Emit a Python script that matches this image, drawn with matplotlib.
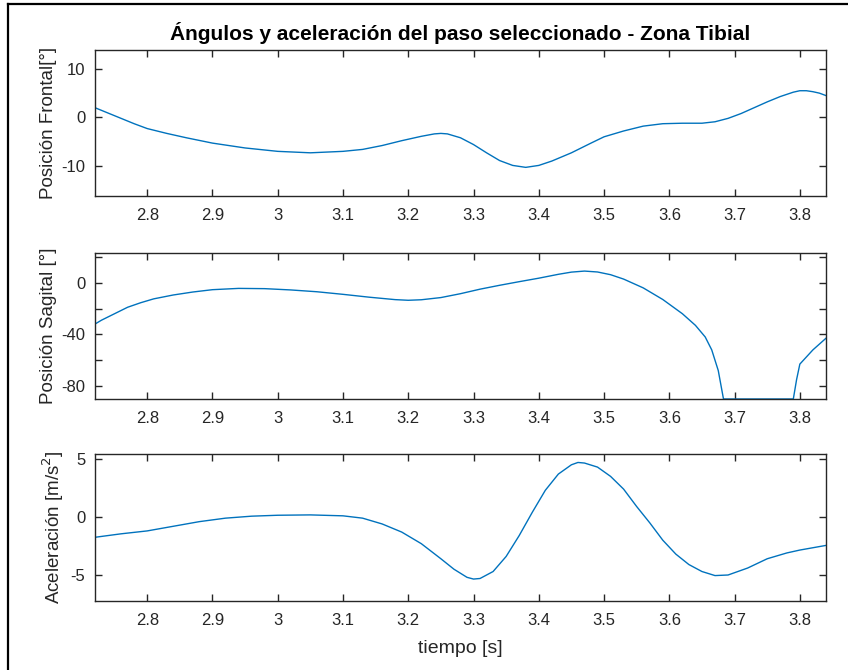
import numpy as np
import matplotlib
matplotlib.use("Agg")
import matplotlib.pyplot as plt
from matplotlib.lines import Line2D

# data
t_front = [2.72, 2.74, 2.76, 2.78, 2.8, 2.83, 2.86, 2.9, 2.95, 3.0, 3.05, 3.1, 3.13, 3.16,
           3.19, 3.22, 3.24, 3.25, 3.26, 3.28, 3.3, 3.32, 3.34, 3.36, 3.38, 3.4, 3.42,
           3.45, 3.48, 3.5, 3.53, 3.56, 3.59, 3.62, 3.65, 3.67, 3.69, 3.71, 3.73, 3.75,
           3.77, 3.79, 3.8, 3.81, 3.82, 3.83, 3.84]
frontal = [2.0, 0.9, -0.2, -1.3, -2.3, -3.3, -4.2, -5.3, -6.3, -7.0, -7.3, -7.0, -6.6, -5.8,
           -4.8, -3.9, -3.4, -3.3, -3.4, -4.2, -5.6, -7.3, -8.9, -9.9, -10.3, -9.9, -9.0,
           -7.3, -5.3, -4.0, -2.8, -1.8, -1.3, -1.2, -1.2, -0.9, -0.2, 0.8, 2.0, 3.2,
           4.3, 5.2, 5.5, 5.5, 5.3, 5.0, 4.5]

t_sag = [2.72, 2.73, 2.75, 2.77, 2.79, 2.81, 2.84, 2.87, 2.9, 2.94, 2.98, 3.02, 3.06, 3.1,
         3.14, 3.18, 3.2, 3.22, 3.25, 3.28, 3.31, 3.34, 3.37, 3.4, 3.43, 3.45, 3.47,
         3.49, 3.51, 3.53, 3.56, 3.59, 3.62, 3.64, 3.655, 3.665, 3.675, 3.683, 3.79,
         3.795, 3.8, 3.82, 3.84]
sagital = [-32, -29, -24, -19, -15.5, -12.5, -9.5, -7.2, -5.4, -4.4, -4.6, -5.6, -7.0, -9.0,
           -11.2, -13.1, -13.6, -13.2, -11.5, -8.5, -5.0, -2.0, 0.8, 3.5, 6.5, 8.2, 9.0,
           8.3, 6.2, 2.8, -4.0, -13, -24, -33, -42, -52, -68, -90, -90,
           -75, -63, -52, -43]

t_acc = [2.72, 2.76, 2.8, 2.84, 2.88, 2.92, 2.96, 3.0, 3.05, 3.1, 3.13, 3.16, 3.19, 3.22,
         3.25, 3.27, 3.29, 3.3, 3.31, 3.33, 3.35, 3.37, 3.39, 3.41, 3.43, 3.45, 3.46,
         3.47, 3.49, 3.51, 3.53, 3.55, 3.57, 3.59, 3.61, 3.63, 3.65, 3.67, 3.69, 3.72,
         3.75, 3.78, 3.8, 3.84]
acel = [-1.75, -1.45, -1.2, -0.8, -0.4, -0.1, 0.07, 0.15, 0.18, 0.1, -0.1, -0.6, -1.3, -2.3,
        -3.6, -4.5, -5.2, -5.35, -5.3, -4.7, -3.4, -1.6, 0.4, 2.3, 3.7, 4.5, 4.7,
        4.65, 4.3, 3.5, 2.4, 0.9, -0.5, -2.0, -3.2, -4.1, -4.7, -5.05, -5.0, -4.4,
        -3.6, -3.1, -2.85, -2.45]

xlim = (2.72, 3.84)
xticks = [2.8, 2.9, 3.0, 3.1, 3.2, 3.3, 3.4, 3.5, 3.6, 3.7, 3.8]
xticklabels = ["2.8", "2.9", "3", "3.1", "3.2", "3.3", "3.4", "3.5", "3.6", "3.7", "3.8"]

blue = "#0072BD"
frame = "#262626"
font = ["Liberation Sans", "DejaVu Sans"]

fig = plt.figure(figsize=(8.48, 6.70), dpi=100)

def style(ax, yticks, ylabels, ylim, ylabel):
    ax.set_xlim(*xlim)
    ax.set_ylim(*ylim)
    ax.set_xticks(xticks)
    ax.set_xticklabels(xticklabels, family=font, fontsize=12, color=frame)
    ax.set_yticks(yticks)
    ax.set_yticklabels(ylabels, family=font, fontsize=12, color=frame)
    ax.tick_params(direction="in", top=True, right=True, length=5, width=1, color=frame)
    ax.tick_params(axis="x", pad=9)
    ax.tick_params(axis="y", pad=7)
    for s in ax.spines.values():
        s.set_color(frame)
        s.set_linewidth(1)
    ax.set_ylabel(ylabel, fontsize=13.5, family=font, color=frame, labelpad=3)

ax1 = fig.add_axes([0.112, 0.7075, 0.862, 0.2179])
ax1.plot(t_front, frontal, color=blue, lw=1)
style(ax1, [-10, 0, 10], ["-10", "0", "10"], (-16.2, 13.9), "Posición Frontal[°]")
ax1.set_title("Ángulos y aceleración del paso seleccionado - Zona Tibial",
              fontsize=15, fontweight="bold", family=font, color="black", pad=7)

ax2 = fig.add_axes([0.112, 0.4045, 0.862, 0.2179])
ax2.plot(t_sag, sagital, color=blue, lw=1)
style(ax2, [-80, -60, -40, -20, 0, 20], ["-80", "", "-40", "", "0", ""], (-90, 23),
      "Posición Sagital [°]")

ax3 = fig.add_axes([0.112, 0.103, 0.862, 0.2194])
ax3.plot(t_acc, acel, color=blue, lw=1)
style(ax3, [-5, 0, 5], ["-5", "0", "5"], (-7.24, 5.43), "Aceleración [m/s$^2$]")
ax3.set_xlabel("tiempo [s]", fontsize=14, family=font, color=frame, labelpad=8)

# frame lines at the left and top of the picture
fig.add_artist(Line2D([8 / 848, 8 / 848], [0, 1 - 4 / 670], color="black", lw=1.6,
                      transform=fig.transFigure))
fig.add_artist(Line2D([8 / 848, 1], [1 - 4 / 670, 1 - 4 / 670], color="black", lw=1.6,
                      transform=fig.transFigure))

fig.savefig("out.png", dpi=100)
